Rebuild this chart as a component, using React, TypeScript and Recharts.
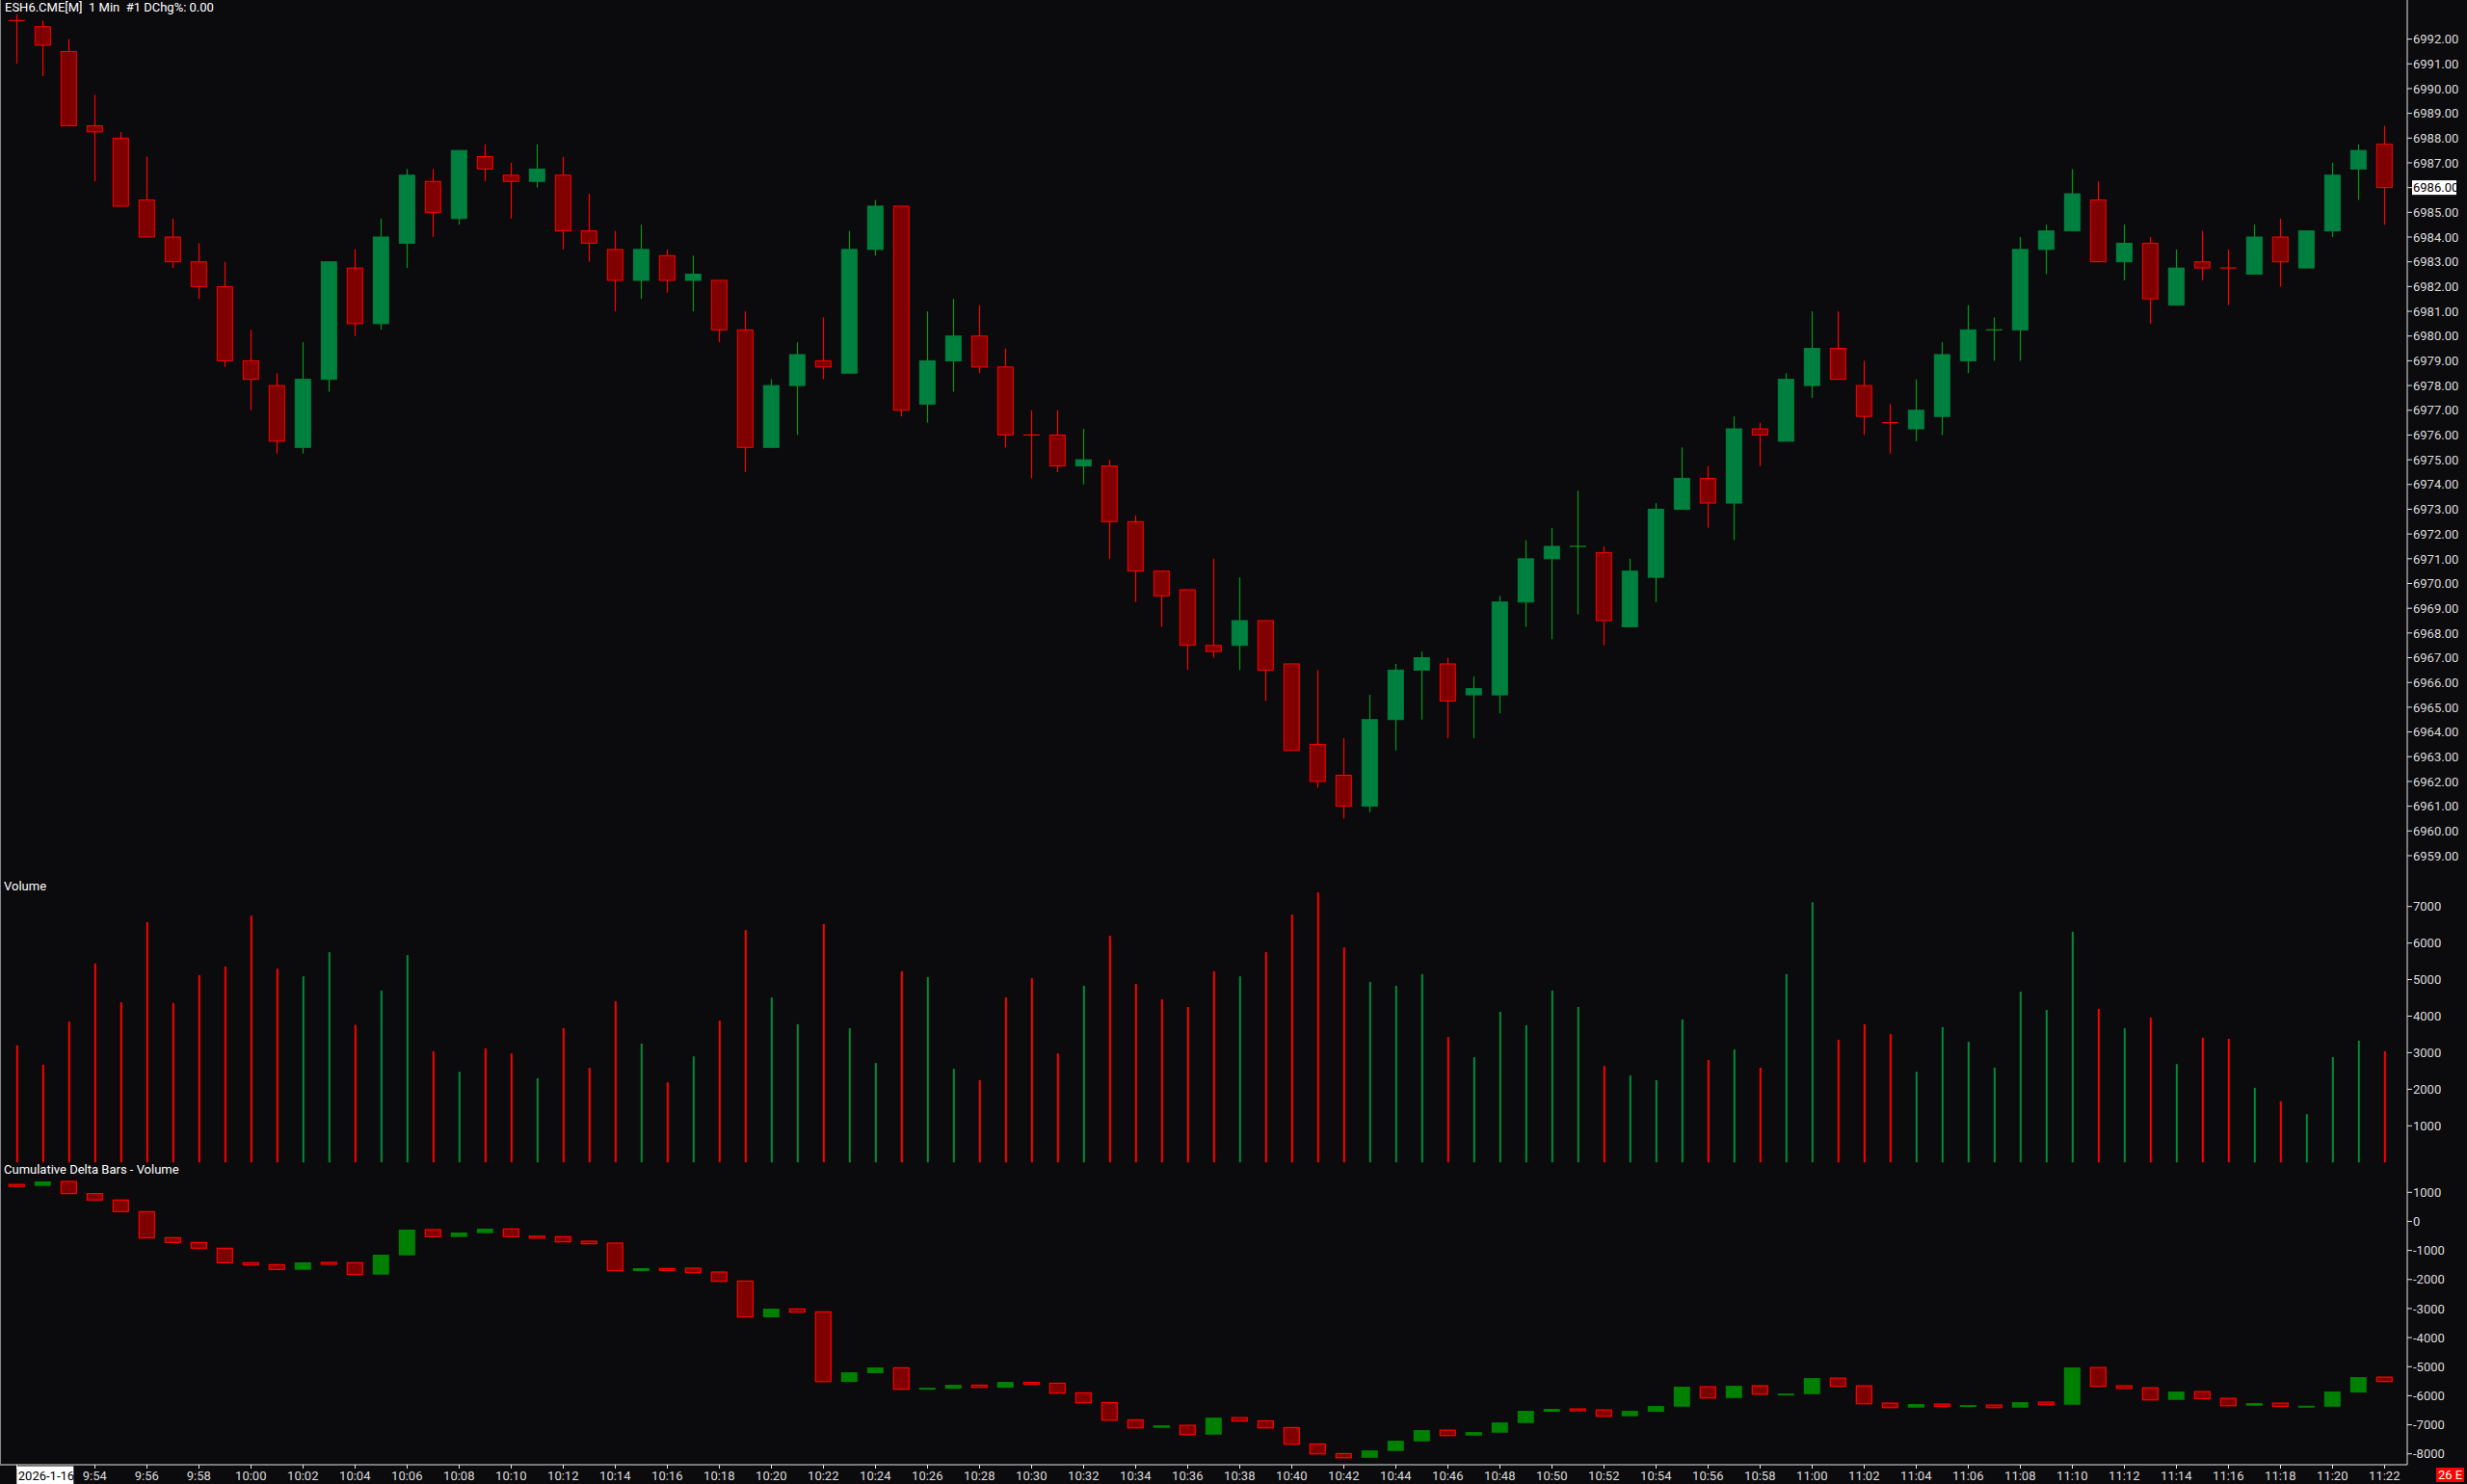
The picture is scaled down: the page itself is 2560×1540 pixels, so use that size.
import React from 'react';
import { ComposedChart, Bar, XAxis, YAxis, Cell } from 'recharts';

// 1 minute bars, ESH6 2026-1-16
const times = [
  '9:51', '9:52', '9:53', '9:54', '9:55', '9:56', '9:57', '9:58', '9:59',
  '10:00', '10:01', '10:02', '10:03', '10:04', '10:05', '10:06', '10:07', '10:08', '10:09',
  '10:10', '10:11', '10:12', '10:13', '10:14', '10:15', '10:16', '10:17', '10:18', '10:19',
  '10:20', '10:21', '10:22', '10:23', '10:24', '10:25', '10:26', '10:27', '10:28', '10:29',
  '10:30', '10:31', '10:32', '10:33', '10:34', '10:35', '10:36', '10:37', '10:38', '10:39',
  '10:40', '10:41', '10:42', '10:43', '10:44', '10:45', '10:46', '10:47', '10:48', '10:49',
  '10:50', '10:51', '10:52', '10:53', '10:54', '10:55', '10:56', '10:57', '10:58', '10:59',
  '11:00', '11:01', '11:02', '11:03', '11:04', '11:05', '11:06', '11:07', '11:08', '11:09',
  '11:10', '11:11', '11:12', '11:13', '11:14', '11:15', '11:16', '11:17', '11:18', '11:19',
  '11:20', '11:21', '11:22',
];

const timeLabels = [
  '9:54', '9:56', '9:58', '10:00', '10:02', '10:04', '10:06', '10:08', '10:10', '10:12',
  '10:14', '10:16', '10:18', '10:20', '10:22', '10:24', '10:26', '10:28', '10:30', '10:32',
  '10:34', '10:36', '10:38', '10:40', '10:42', '10:44', '10:46', '10:48', '10:50', '10:52',
  '10:54', '10:56', '10:58', '11:00', '11:02', '11:04', '11:06', '11:08', '11:10', '11:12',
  '11:14', '11:16', '11:18', '11:20', '11:22',
];

const open = [
  6992.75, 6992.5, 6991.5, 6988.5, 6988.0, 6985.5, 6984.0, 6983.0, 6982.0, 6979.0,
  6978.0, 6975.5, 6978.25, 6982.75, 6980.5, 6983.75, 6986.25, 6984.75, 6987.25, 6986.5,
  6986.25, 6986.5, 6984.25, 6983.5, 6982.25, 6983.25, 6982.25, 6982.25, 6980.25, 6975.5,
  6978.0, 6979.0, 6978.5, 6983.5, 6985.25, 6977.25, 6979.0, 6980.0, 6978.75, 6976.0,
  6976.0, 6974.75, 6974.75, 6972.5, 6970.5, 6969.75, 6967.5, 6967.5, 6968.5, 6966.75,
  6963.5, 6962.25, 6961.0, 6964.5, 6966.5, 6966.75, 6965.5, 6965.5, 6969.25, 6971.0,
  6971.5, 6971.25, 6968.25, 6970.25, 6973.0, 6974.25, 6973.25, 6976.25, 6975.75, 6978.0,
  6979.5, 6978.0, 6976.5, 6976.25, 6976.75, 6979.0, 6980.25, 6980.25, 6983.5, 6984.25,
  6985.5, 6983.0, 6983.75, 6981.25, 6983.0, 6982.75, 6982.5, 6984.0, 6982.75, 6984.25,
  6986.75, 6987.75,
];

const high = [
  6993.0, 6992.75, 6992.0, 6989.75, 6988.25, 6987.25, 6984.75, 6983.75, 6983.0, 6980.25,
  6978.5, 6979.75, 6983.0, 6983.5, 6984.75, 6986.75, 6986.75, 6987.5, 6987.75, 6987.0,
  6987.75, 6987.25, 6985.75, 6984.25, 6984.5, 6983.5, 6983.25, 6982.25, 6981.0, 6978.25,
  6979.75, 6980.75, 6984.25, 6985.5, 6985.25, 6981.0, 6981.5, 6981.25, 6979.5, 6977.0,
  6977.0, 6976.25, 6975.0, 6972.75, 6970.5, 6969.75, 6971.0, 6970.25, 6968.5, 6966.75,
  6966.5, 6963.75, 6965.5, 6966.75, 6967.25, 6967.0, 6966.25, 6969.5, 6971.75, 6972.25,
  6973.75, 6971.5, 6971.0, 6973.25, 6975.5, 6974.75, 6976.75, 6976.5, 6978.5, 6981.0,
  6981.0, 6979.0, 6977.25, 6978.25, 6979.75, 6981.25, 6980.75, 6984.0, 6984.5, 6986.75,
  6986.25, 6984.5, 6984.0, 6983.5, 6984.25, 6983.5, 6984.5, 6984.75, 6984.25, 6987.0,
  6987.75, 6988.5,
];

const low = [
  6991.0, 6990.5, 6988.5, 6986.25, 6985.25, 6984.0, 6982.75, 6981.5, 6978.75, 6977.0,
  6975.25, 6975.25, 6977.75, 6980.0, 6980.25, 6982.75, 6984.0, 6984.5, 6986.25, 6984.75,
  6986.0, 6983.5, 6983.0, 6981.0, 6981.5, 6981.75, 6981.0, 6979.75, 6974.5, 6975.5,
  6976.0, 6978.25, 6978.5, 6983.25, 6976.75, 6976.5, 6977.75, 6978.5, 6975.5, 6974.25,
  6974.5, 6974.0, 6971.0, 6969.25, 6968.25, 6966.5, 6967.0, 6966.5, 6965.25, 6963.25,
  6961.75, 6960.5, 6960.75, 6963.25, 6964.5, 6963.75, 6963.75, 6964.75, 6968.25, 6967.75,
  6968.75, 6967.5, 6968.25, 6969.25, 6973.0, 6972.25, 6971.75, 6974.75, 6975.75, 6977.5,
  6978.25, 6976.0, 6975.25, 6975.75, 6976.0, 6978.5, 6979.0, 6979.0, 6982.5, 6984.25,
  6983.0, 6982.25, 6980.5, 6981.25, 6982.25, 6981.25, 6982.5, 6982.0, 6982.75, 6984.0,
  6985.5, 6984.5,
];

const close = [
  6992.75, 6991.75, 6988.5, 6988.25, 6985.25, 6984.0, 6983.0, 6982.0, 6979.0, 6978.25,
  6975.75, 6978.25, 6983.0, 6980.5, 6984.0, 6986.5, 6985.0, 6987.5, 6986.75, 6986.25,
  6986.75, 6984.25, 6983.75, 6982.25, 6983.5, 6982.25, 6982.5, 6980.25, 6975.5, 6978.0,
  6979.25, 6978.75, 6983.5, 6985.25, 6977.0, 6979.0, 6980.0, 6978.75, 6976.0, 6976.0,
  6974.75, 6975.0, 6972.5, 6970.5, 6969.5, 6967.5, 6967.25, 6968.5, 6966.5, 6963.25,
  6962.0, 6961.0, 6964.5, 6966.5, 6967.0, 6965.25, 6965.75, 6969.25, 6971.0, 6971.5,
  6971.5, 6968.5, 6970.5, 6973.0, 6974.25, 6973.25, 6976.25, 6976.0, 6978.25, 6979.5,
  6978.25, 6976.75, 6976.5, 6977.0, 6979.25, 6980.25, 6980.25, 6983.5, 6984.25, 6985.75,
  6983.0, 6983.75, 6981.5, 6982.75, 6982.75, 6982.75, 6984.0, 6983.0, 6984.25, 6986.5,
  6987.5, 6986.0,
];

// doji bars drawn in the up colour
const greenDoji = [60, 76];

const volume = [
  3200, 2670, 3850, 5440, 4380, 6570, 4360, 5120, 5360, 6750,
  5300, 5090, 5750, 3760, 4700, 5670, 3040, 2480, 3120, 2980,
  2300, 3670, 2590, 4410, 3250, 2190, 2900, 3880, 6360, 4510,
  3780, 6520, 3670, 2720, 5230, 5070, 2560, 2250, 4510, 5040,
  2980, 4830, 6200, 4880, 4460, 4250, 5230, 5090, 5750, 6780,
  7390, 5880, 4940, 4830, 5150, 3430, 2880, 4120, 3750, 4700,
  4250, 2640, 2380, 2250, 3910, 2800, 3090, 2590, 5150, 7120,
  3350, 3780, 3510, 2480, 3700, 3300, 2590, 4670, 4170, 6310,
  4200, 3670, 3960, 2690, 3410, 3380, 2040, 1670, 1320, 2880,
  3330, 3040,
];

const deltaOpen = [
  1270, 1221, 1376, 956, 735, 336, -560, -725, -924, -1422,
  -1490, -1665, -1411, -1422, -1831, -1168, -283, -537, -405, -261,
  -510, -526, -681, -748, -1710, -1620, -1610, -1743, -2053, -3302,
  -3015, -3114, -5525, -5226, -5039, -5791, -5758, -5636, -5725, -5540,
  -5570, -5901, -6233, -6831, -7107, -7018, -7339, -6753, -6864, -7096,
  -7660, -7992, -8136, -7903, -7571, -7184, -7372, -7272, -6941, -6554,
  -6454, -6488, -6709, -6554, -6377, -5691, -6078, -5658, -5946, -5946,
  -5393, -5658, -6255, -6410, -6288, -6377, -6322, -6410, -6222, -6311,
  -5028, -5658, -5725, -6145, -5857, -6089, -6344, -6255, -6366, -6377,
  -5890, -5360,
];

const deltaClose = [
  1220, 1376, 956, 735, 336, -571, -725, -924, -1422, -1500,
  -1654, -1411, -1440, -1831, -1146, -283, -526, -383, -250, -526,
  -530, -703, -770, -1699, -1610, -1640, -1765, -2064, -3291, -3004,
  -3125, -5514, -5194, -5028, -5780, -5725, -5625, -5713, -5525, -5570,
  -5913, -6244, -6842, -7107, -7018, -7339, -6753, -6875, -7107, -7671,
  -8003, -8136, -7881, -7549, -7184, -7372, -7250, -6919, -6521, -6454,
  -6521, -6709, -6521, -6355, -5691, -6078, -5658, -5946, -5924, -5393,
  -5680, -6277, -6410, -6288, -6366, -6322, -6410, -6222, -6311, -5028,
  -5680, -5747, -6145, -5857, -6100, -6344, -6255, -6366, -6344, -5857,
  -5360, -5514,
];

const priceTicks = [
  6959, 6960, 6961, 6962, 6963, 6964, 6965, 6966, 6967, 6968, 6969, 6970,
  6971, 6972, 6973, 6974, 6975, 6976, 6977, 6978, 6979, 6980, 6981, 6982,
  6983, 6984, 6985, 6986, 6987, 6988, 6989, 6990, 6991, 6992,
];
const volumeTicks = [1000, 2000, 3000, 4000, 5000, 6000, 7000];
const deltaTicks = [-8000, -7000, -6000, -5000, -4000, -3000, -2000, -1000, 0, 1000];
const lastPrice = 6986;

const BG = '#0b0a0d';
const AXIS = '#e6e6e6';
const TXT = '#dcdcdc';
const RED = '#ff0000';
const RED_FILL = '#800000';
const GREEN_FILL = '#00803e';
const GREEN_WICK = '#009a1a';
const DELTA_GREEN = '#008000';
const VOL_GREEN = '#008c3a';
const FONT = 'Roboto, "DejaVu Sans", sans-serif';

const isUp = (i: number) => close[i] > open[i] || (close[i] === open[i] && greenDoji.includes(i));

const priceData = times.map((t, i) => ({ t, i, range: [low[i], high[i]] }));
const volData = times.map((t, i) => ({ t, i, v: volume[i] }));
const deltaData = times.map((t, i) => ({
  t,
  i,
  range: [Math.min(deltaOpen[i], deltaClose[i]), Math.max(deltaOpen[i], deltaClose[i])],
}));

const xPad = { left: 3.8, right: 10.2 };

function Candle(props: any) {
  const { x, y, width, height } = props;
  const i = props.payload?.i ?? props.index;
  const h = high[i];
  const l = low[i];
  const py = (v: number) => y + ((h - v) / (h - l)) * height;
  const up = isUp(i);
  const cx = Math.floor(x + width / 2) + 0.5;
  const yo = py(open[i]);
  const yc = py(close[i]);
  const top = Math.min(yo, yc);
  const bot = Math.max(yo, yc);
  const wick = up ? GREEN_WICK : RED;
  return (
    <g>
      <line x1={cx} x2={cx} y1={y} y2={y + height} stroke={wick} strokeWidth={1.2} />
      {bot - top < 1 ? (
        <line x1={x} x2={x + width} y1={top} y2={top} stroke={wick} strokeWidth={1.2} />
      ) : (
        <rect
          x={x + 0.5}
          y={top}
          width={width - 1}
          height={bot - top}
          fill={up ? GREEN_FILL : RED_FILL}
          stroke={up ? GREEN_FILL : RED}
          strokeWidth={1}
        />
      )}
    </g>
  );
}

function DeltaBar(props: any) {
  const { x, y, width, height } = props;
  const i = props.payload?.i ?? props.index;
  const up = deltaClose[i] > deltaOpen[i];
  if (up) {
    return <rect x={x} y={y} width={width} height={Math.max(height, 2)} fill={DELTA_GREEN} />;
  }
  return (
    <rect
      x={x + 0.5}
      y={y}
      width={width - 1}
      height={Math.max(height, 2)}
      fill={RED_FILL}
      stroke={RED}
      strokeWidth={1.2}
    />
  );
}

function PriceTick(props: any) {
  const { x, y, payload } = props;
  const v = payload.value as number;
  const hl = v === lastPrice;
  return (
    <g>
      {hl && <rect x={x - 1} y={y - 7.5} width={46} height={15} fill="#ffffff" />}
      <text x={x} y={y} dy="0.36em" fill={hl ? '#000000' : TXT} fontSize={13} fontFamily={FONT}>
        {v.toFixed(2)}
      </text>
    </g>
  );
}

function ValueTick(props: any) {
  const { x, y, payload } = props;
  return (
    <text x={x} y={y} dy="0.36em" fill={TXT} fontSize={13} fontFamily={FONT}>
      {String(payload.value)}
    </text>
  );
}

function TimeTick(props: any) {
  const { x, y, payload } = props;
  const v = payload.value as string;
  const cx = Math.floor(x) + 0.5;
  if (v === times[0]) {
    return (
      <g>
        <line x1={cx} x2={cx} y1={y} y2={y + 4} stroke={AXIS} />
        <rect x={x} y={y + 1.5} width={59} height={19} fill="#ffffff" />
        <text x={x + 1.5} y={y + 16} fill="#000000" fontSize={13} fontFamily={FONT}>
          2026-1-16
        </text>
      </g>
    );
  }
  if (!timeLabels.includes(v)) return <g />;
  return (
    <g>
      <line x1={cx} x2={cx} y1={y} y2={y + 4} stroke={AXIS} />
      <text x={x} y={y + 16} textAnchor="middle" fill={TXT} fontSize={13} fontFamily={FONT}>
        {v}
      </text>
    </g>
  );
}

const title: React.CSSProperties = {
  position: 'absolute',
  left: 5,
  color: '#ffffff',
  fontFamily: FONT,
  fontSize: 13,
  lineHeight: '13px',
  whiteSpace: 'pre',
};

export default function App() {
  return (
    <div style={{ position: 'absolute', left: 0, top: 0, width: 2560, height: 1540, background: BG, overflow: 'hidden' }}>
      {/* Price pane */}
      <div style={{ position: 'absolute', left: 0, top: 0 }}>
        <ComposedChart width={2560} height={908} data={priceData} margin={{ top: 0, right: 0, bottom: 0, left: 0 }}>
          <XAxis dataKey="t" hide padding={xPad} />
          <YAxis
            orientation="right"
            width={62}
            domain={[6958.22, 6993.58]}
            allowDataOverflow
            ticks={priceTicks}
            interval={0}
            tick={<PriceTick />}
            tickSize={5}
            tickMargin={1}
            tickLine={{ stroke: AXIS }}
            axisLine={{ stroke: AXIS }}
          />
          <Bar dataKey="range" barSize={17} shape={<Candle />} isAnimationActive={false} />
        </ComposedChart>
      </div>

      {/* Volume pane */}
      <div style={{ position: 'absolute', left: 0, top: 908 }}>
        <ComposedChart width={2560} height={300} data={volData} margin={{ top: 0, right: 0, bottom: 0, left: 0 }}>
          <XAxis dataKey="t" hide padding={xPad} />
          <YAxis
            orientation="right"
            width={62}
            domain={[-47, 7862]}
            allowDataOverflow
            ticks={volumeTicks}
            interval={0}
            tick={<ValueTick />}
            tickSize={5}
            tickMargin={1}
            tickLine={{ stroke: AXIS }}
            axisLine={{ stroke: AXIS }}
          />
          <Bar dataKey="v" barSize={2} isAnimationActive={false}>
            {volData.map((d) => (
              <Cell key={d.t} fill={isUp(d.i) ? VOL_GREEN : RED} />
            ))}
          </Bar>
        </ComposedChart>
      </div>

      {/* Cumulative delta pane */}
      <div style={{ position: 'absolute', left: 0, top: 1208 }}>
        <ComposedChart width={2560} height={332} data={deltaData} margin={{ top: 0, right: 0, bottom: 0, left: 0 }}>
          <XAxis
            dataKey="t"
            padding={xPad}
            height={20}
            interval={0}
            tick={<TimeTick />}
            tickLine={false}
            tickSize={0}
            tickMargin={0}
            axisLine={{ stroke: AXIS }}
          />
          <YAxis
            orientation="right"
            width={62}
            domain={[-8375, 1972]}
            allowDataOverflow
            ticks={deltaTicks}
            interval={0}
            tick={<ValueTick />}
            tickSize={5}
            tickMargin={1}
            tickLine={{ stroke: AXIS }}
            axisLine={{ stroke: AXIS }}
          />
          <Bar dataKey="range" barSize={17} shape={<DeltaBar />} isAnimationActive={false} />
        </ComposedChart>
      </div>

      <div style={{ position: 'absolute', left: 0, top: 0, width: 1, height: 1520, background: '#8a8a8a' }} />

      <div style={{ ...title, top: 1 }}>{'ESH6.CME[M]  1 Min  #1 DChg%: 0.00'}</div>
      <div style={{ ...title, left: 4, top: 913 }}>Volume</div>
      <div style={{ ...title, left: 4, top: 1207 }}>Cumulative Delta Bars - Volume</div>

      <div
        style={{
          position: 'absolute',
          left: 2528,
          top: 1523,
          width: 29,
          height: 15,
          background: '#ff0000',
          color: '#ffffff',
          fontFamily: FONT,
          fontSize: 13,
          lineHeight: '15px',
          textAlign: 'center',
        }}
      >
        26 E
      </div>
    </div>
  );
}
